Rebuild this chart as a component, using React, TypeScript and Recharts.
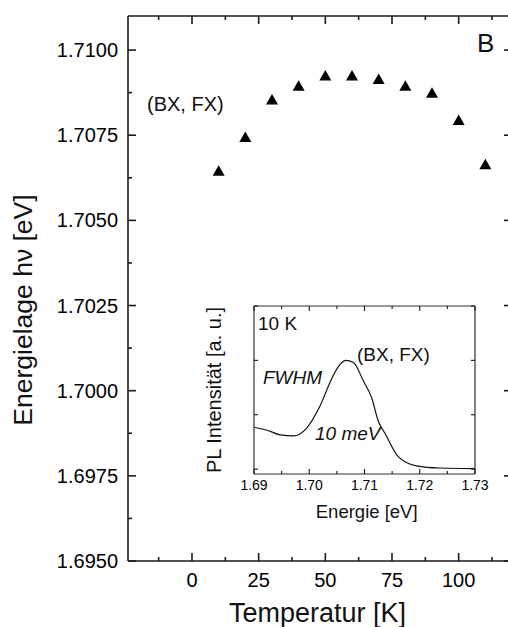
import React from "react";
import { ScatterChart, Scatter, LineChart, Line, XAxis, YAxis } from "recharts";

// main panel: (BX, FX) peak position vs temperature
const temperatures = [10, 20, 30, 40, 50, 60, 70, 80, 90, 100, 110];
const peakEnergies = [
  1.70646, 1.70745, 1.70855, 1.70895, 1.70925, 1.70925, 1.70915, 1.70895, 1.70875, 1.70795, 1.70665,
];
const tempTicks = [-12.5, 0, 12.5, 25, 37.5, 50, 62.5, 75, 87.5, 100, 112.5];
const tempLabels = [0, 25, 50, 75, 100];
const energyTicks = [
  1.695, 1.69625, 1.6975, 1.69875, 1.7, 1.70125, 1.7025, 1.70375, 1.705, 1.70625, 1.7075, 1.70875, 1.71,
];
const energyLabels = [1.695, 1.6975, 1.7, 1.7025, 1.705, 1.7075, 1.71];

// inset: PL spectrum at 10 K
const specEnergy = [
  1.69, 1.6925, 1.6947, 1.6971, 1.6995, 1.7019, 1.704, 1.7056, 1.7066, 1.708, 1.7098, 1.7113, 1.7125,
  1.7137, 1.7161, 1.7194, 1.7236, 1.73,
];
const specIntensity = [
  0.77, 0.71, 0.63, 0.61, 0.75, 1.15, 1.65, 1.93, 2.0, 1.96, 1.62, 1.31, 0.88, 0.66, 0.23, 0.06, 0.02, 0.01,
];
const specTicks = [1.69, 1.695, 1.7, 1.705, 1.71, 1.715, 1.72, 1.725, 1.73];
const specLabels = [1.69, 1.7, 1.71, 1.72, 1.73];
const intensityTicks = [0, 1, 2, 3];

const mainData = temperatures.map((t, i) => ({ t, e: peakEnergies[i] }));
const specData = specEnergy.map((en, i) => ({ en, pl: specIntensity[i] }));

const FONT = "'Liberation Sans', Arial, Helvetica, sans-serif";
const AX = "#1a1a1a";

const isIn = (v: number, list: number[]) => list.some((m) => Math.abs(m - v) < 1e-9);

// ticks point inward, labels sit outside
function BottomTick(p: any) {
  const major = isIn(p.payload.value, p.majors);
  const l = major ? p.tl : p.tm;
  return (
    <g>
      <line x1={p.x} x2={p.x} y1={p.y} y2={p.y - l} stroke={AX} strokeWidth={p.sw} />
      {major && p.fmt && (
        <text x={p.x} y={p.y + p.gap} textAnchor="middle" fontSize={p.fs} fontFamily={FONT} fill="#000">
          {p.fmt(p.payload.value)}
        </text>
      )}
    </g>
  );
}

function TopTick(p: any) {
  const l = isIn(p.payload.value, p.majors) ? p.tl : p.tm;
  return <line x1={p.x} x2={p.x} y1={p.y} y2={p.y + l} stroke={AX} strokeWidth={p.sw} />;
}

function LeftTick(p: any) {
  const major = isIn(p.payload.value, p.majors);
  const l = major ? p.tl : p.tm;
  return (
    <g>
      <line x1={p.x} x2={p.x + l} y1={p.y} y2={p.y} stroke={AX} strokeWidth={p.sw} />
      {major && p.fmt && (
        <text x={p.x - p.gap} y={p.y + p.fs * 0.35} textAnchor="end" fontSize={p.fs} fontFamily={FONT} fill="#000">
          {p.fmt(p.payload.value)}
        </text>
      )}
    </g>
  );
}

function RightTick(p: any) {
  const l = isIn(p.payload.value, p.majors) ? p.tl : p.tm;
  return <line x1={p.x} x2={p.x - l} y1={p.y} y2={p.y} stroke={AX} strokeWidth={p.sw} />;
}

const Triangle = (p: any) => (
  <polygon points={`${p.cx},${p.cy - 5.5} ${p.cx + 6},${p.cy + 5} ${p.cx - 6},${p.cy + 5}`} fill="#000" />
);
const Nothing = () => <g />;

function Note({ x, y, size, italic, children }: any) {
  return (
    <div
      style={{
        position: "absolute",
        left: x,
        top: y,
        fontSize: size,
        lineHeight: 1,
        transform: "translateY(-50%)",
        fontStyle: italic ? "italic" : "normal",
        whiteSpace: "nowrap",
        fontFamily: FONT,
        color: "#111",
      }}
    >
      {children}
    </div>
  );
}

function Title({ x, y, size, vertical, children }: any) {
  return (
    <div
      style={{
        position: "absolute",
        left: x,
        top: y,
        fontSize: size,
        lineHeight: 1,
        transform: vertical ? "translate(-50%, -50%) rotate(-90deg)" : "translate(-50%, -50%)",
        whiteSpace: "nowrap",
        fontFamily: FONT,
        color: "#111",
      }}
    >
      {children}
    </div>
  );
}

export default function App() {
  const axisLine = { stroke: AX, strokeWidth: 1.6 };
  const thin = { stroke: "#333", strokeWidth: 1.2 };
  const big = { tl: 8, tm: 4, sw: 1.6 };
  const small = { tl: 5, tm: 3, sw: 1.1 };
  return (
    <div
      style={{
        position: "absolute",
        left: 0,
        top: 0,
        width: 508,
        height: 627,
        overflow: "hidden",
        background: "#fff",
      }}
    >
      <ScatterChart width={520} height={627} margin={{ top: 15, right: 7, bottom: 0, left: 0 }}>
        <XAxis
          xAxisId="b"
          dataKey="t"
          type="number"
          domain={[-24, 120]}
          ticks={tempTicks}
          interval={0}
          height={66}
          allowDataOverflow
          axisLine={axisLine}
          tickLine={false}
          tickSize={0}
          tickMargin={0}
          tick={(p: any) => (
            <BottomTick {...p} {...big} majors={tempLabels} gap={26} fs={20} fmt={(v: number) => String(v)} />
          )}
        />
        <XAxis
          xAxisId="t"
          orientation="top"
          dataKey="t"
          type="number"
          domain={[-24, 120]}
          ticks={tempTicks}
          interval={0}
          height={1}
          allowDataOverflow
          axisLine={axisLine}
          tickLine={false}
          tickSize={0}
          tickMargin={0}
          tick={(p: any) => <TopTick {...p} {...big} majors={tempLabels} />}
        />
        <YAxis
          yAxisId="l"
          dataKey="e"
          type="number"
          domain={[1.695, 1.711]}
          ticks={energyTicks}
          interval={0}
          width={128}
          allowDataOverflow
          axisLine={axisLine}
          tickLine={false}
          tickSize={0}
          tickMargin={0}
          tick={(p: any) => (
            <LeftTick {...p} {...big} majors={energyLabels} gap={10} fs={20} fmt={(v: number) => v.toFixed(4)} />
          )}
        />
        <YAxis
          yAxisId="r"
          orientation="right"
          dataKey="e"
          type="number"
          domain={[1.695, 1.711]}
          ticks={energyTicks}
          interval={0}
          width={1}
          allowDataOverflow
          axisLine={axisLine}
          tickLine={false}
          tickSize={0}
          tickMargin={0}
          tick={(p: any) => <RightTick {...p} {...big} majors={energyLabels} />}
        />
        <Scatter data={mainData} dataKey="e" xAxisId="b" yAxisId="l" shape={Triangle} isAnimationActive={false} />
        <Scatter data={mainData} dataKey="e" xAxisId="t" yAxisId="r" shape={Nothing} isAnimationActive={false} />
      </ScatterChart>

      <div style={{ position: "absolute", left: 190, top: 295 }}>
        <LineChart width={300} height={240} data={specData} margin={{ top: 10, right: 14, bottom: 0, left: 0 }}>
          <XAxis
            xAxisId="b"
            dataKey="en"
            type="number"
            domain={[1.69, 1.73]}
            ticks={specTicks}
            interval={0}
            height={61}
            allowDataOverflow
            axisLine={thin}
            tickLine={false}
            tickSize={0}
            tickMargin={0}
            tick={(p: any) => (
              <BottomTick {...p} {...small} majors={specLabels} gap={16} fs={14} fmt={(v: number) => v.toFixed(2)} />
            )}
          />
          <XAxis
            xAxisId="t"
            orientation="top"
            dataKey="en"
            type="number"
            domain={[1.69, 1.73]}
            ticks={specTicks}
            interval={0}
            height={1}
            allowDataOverflow
            axisLine={thin}
            tickLine={false}
            tickSize={0}
            tickMargin={0}
            tick={(p: any) => <TopTick {...p} {...small} majors={specLabels} />}
          />
          <YAxis
            yAxisId="l"
            type="number"
            domain={[-0.09, 3]}
            ticks={intensityTicks}
            interval={0}
            width={64}
            allowDataOverflow
            axisLine={thin}
            tickLine={false}
            tickSize={0}
            tickMargin={0}
            tick={(p: any) => <LeftTick {...p} tl={4} tm={2} sw={1.1} majors={intensityTicks} />}
          />
          <YAxis
            yAxisId="r"
            orientation="right"
            type="number"
            domain={[-0.09, 3]}
            ticks={intensityTicks}
            interval={0}
            width={1}
            allowDataOverflow
            axisLine={thin}
            tickLine={false}
            tickSize={0}
            tickMargin={0}
            tick={(p: any) => <RightTick {...p} tl={4} tm={2} sw={1.1} majors={intensityTicks} />}
          />
          <Line
            xAxisId="b"
            yAxisId="l"
            dataKey="pl"
            type="monotone"
            stroke="#111"
            strokeWidth={1.2}
            dot={false}
            isAnimationActive={false}
          />
          <Line
            xAxisId="t"
            yAxisId="r"
            dataKey="pl"
            stroke="none"
            dot={false}
            activeDot={false}
            isAnimationActive={false}
          />
        </LineChart>
      </div>

      <Note x={147} y={104} size={20}>(BX, FX)</Note>
      <Note x={477} y={43} size={26}>B</Note>
      <Note x={258} y={323} size={19}>10 K</Note>
      <Note x={357} y={354} size={19}>(BX, FX)</Note>
      <Note x={263} y={377} size={19} italic>FWHM</Note>
      <Note x={315} y={433} size={19} italic>10 meV</Note>

      <Title x={317.5} y={613} size={27}>Temperatur [K]</Title>
      <Title x={22.5} y={310} size={26.5} vertical>Energielage hν [eV]</Title>
      <Title x={366.7} y={511.7} size={18.5}>Energie [eV]</Title>
      <Title x={214} y={390} size={20} vertical>PL Intensität [a. u.]</Title>
    </div>
  );
}
